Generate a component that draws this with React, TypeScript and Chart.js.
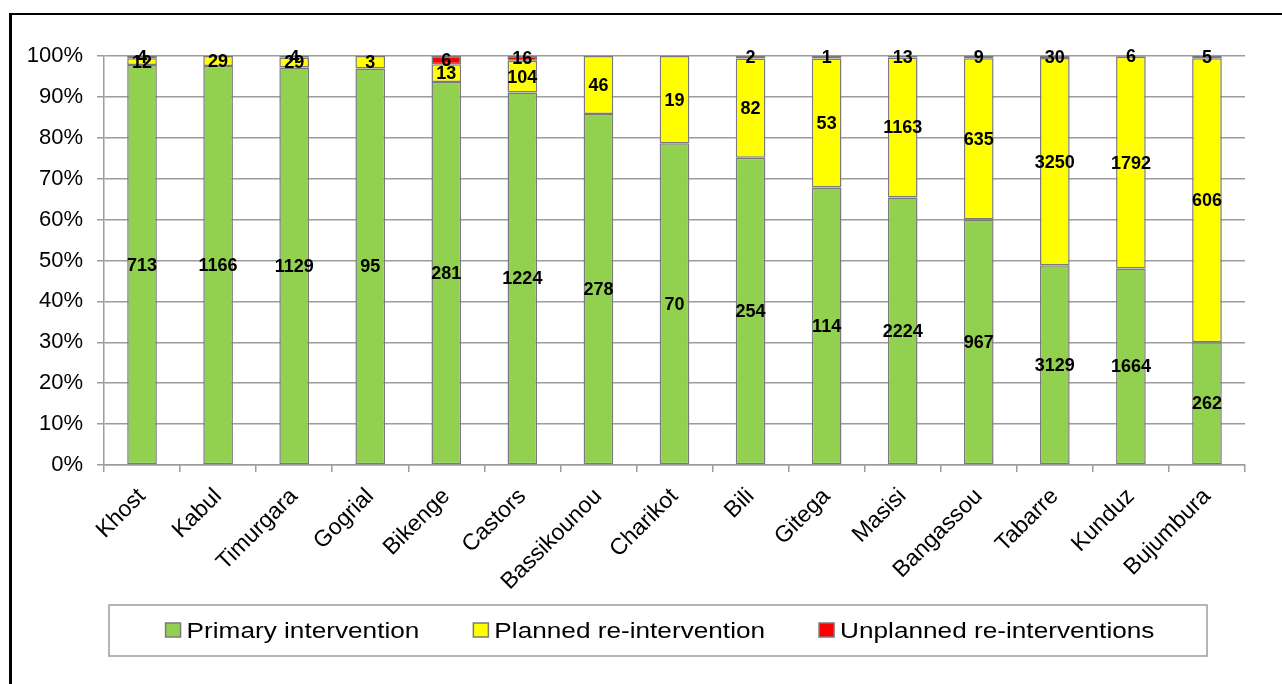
import React, { useEffect, useRef } from 'react';
import { Chart, registerables } from 'chart.js';

Chart.register(...registerables);

// Sites, in display order
const sites = [
  'Khost', 'Kabul', 'Timurgara', 'Gogrial', 'Bikenge', 'Castors', 'Bassikounou',
  'Charikot', 'Bili', 'Gitega', 'Masisi', 'Bangassou', 'Tabarre', 'Kunduz', 'Bujumbura',
];

// Number of interventions per site
const primaryCounts = [713, 1166, 1129, 95, 281, 1224, 278, 70, 254, 114, 2224, 967, 3129, 1664, 262];
const plannedCounts = [12, 29, 29, 3, 13, 104, 46, 19, 82, 53, 1163, 635, 3250, 1792, 606];
const unplannedCounts = [4, 0, 4, 0, 6, 16, 0, 0, 2, 1, 13, 9, 30, 6, 5];

const seriesNames = ['Primary intervention', 'Planned re-intervention', 'Unplanned re-interventions'];
const seriesColors = ['#92D050', '#FFFF00', '#FF0000'];

// Percent axis: 0% .. 100% in steps of 10
const yTickStep = 10;
const yMax = 100;

const FONT = '"Liberation Sans", Arial, Helvetica, sans-serif';
const GRID = '#9c9c9c';
const BAR_EDGE = '#7a7a7a';

const totals = sites.map((_, i) => primaryCounts[i] + plannedCounts[i] + unplannedCounts[i]);
const toShare = (counts: number[]) => counts.map((c, i) => (c / totals[i]) * 100);

// Count labels centred in each non-empty segment
const countLabels = {
  id: 'countLabels',
  afterDatasetsDraw(chart: any) {
    const { ctx } = chart;
    ctx.save();
    ctx.font = `bold 18px ${FONT}`;
    ctx.fillStyle = '#000';
    ctx.textAlign = 'center';
    ctx.textBaseline = 'middle';
    chart.data.datasets.forEach((ds: any, di: number) => {
      const meta = chart.getDatasetMeta(di);
      meta.data.forEach((bar: any, i: number) => {
        const n = ds.counts[i];
        if (!n) return;
        const { x, y, base } = bar.getProps(['x', 'y', 'base'], true);
        ctx.fillText(String(n), x, (y + base) / 2 + 1);
      });
    });
    ctx.restore();
  },
};

// Framed legend row under the axis labels
const framedLegend = {
  id: 'framedLegend',
  afterDraw(chart: any) {
    const { ctx, chartArea } = chart;
    const left = chartArea.left + 5;
    const right = chartArea.right - 38;
    const top = chartArea.bottom + 140;
    const h = 51;
    ctx.save();
    ctx.strokeStyle = GRID;
    ctx.lineWidth = 1.5;
    ctx.strokeRect(left, top, right - left, h);

    ctx.font = `22px ${FONT}`;
    const sx = 1.19;
    const box = 15;
    const gapText = 6;
    const gapItems = 54;
    const items = chart.data.datasets.map((ds: any) => ({
      label: ds.label,
      color: ds.backgroundColor,
      w: ctx.measureText(ds.label).width * sx,
    }));
    const total = items.reduce((s: number, it: any) => s + box + gapText + it.w, 0) + gapItems * (items.length - 1);
    let x = (left + right) / 2 - total / 2 + 2;
    const cy = top + h / 2;
    items.forEach((it: any) => {
      ctx.fillStyle = it.color;
      ctx.fillRect(x, cy - box / 2, box, box - 1);
      ctx.strokeStyle = BAR_EDGE;
      ctx.lineWidth = 1.5;
      ctx.strokeRect(x, cy - box / 2, box, box - 1);
      x += box + gapText;
      ctx.save();
      ctx.translate(x, cy + 7.5);
      ctx.scale(sx, 1.03);
      ctx.fillStyle = '#000';
      ctx.textBaseline = 'alphabetic';
      ctx.textAlign = 'left';
      ctx.fillText(it.label, 0, 0);
      ctx.restore();
      x += it.w + gapItems;
    });
    ctx.restore();
  },
};

export default function App() {
  const canvasRef = useRef<HTMLCanvasElement | null>(null);

  useEffect(() => {
    const canvas = canvasRef.current;
    if (!canvas) return;
    const countSets = [primaryCounts, plannedCounts, unplannedCounts];
    const chart = new Chart(canvas, {
      type: 'bar',
      data: {
        labels: sites,
        datasets: countSets.map((counts, k) => ({
          label: seriesNames[k],
          data: toShare(counts),
          counts,
          backgroundColor: seriesColors[k],
          borderColor: BAR_EDGE,
          borderWidth: 1.5,
          borderSkipped: false,
          barPercentage: 0.39,
          categoryPercentage: 1,
        })) as any,
      },
      options: {
        responsive: false,
        animation: false,
        devicePixelRatio: 1,
        layout: { padding: { top: 56, left: 0, right: 37, bottom: 79 } },
        plugins: {
          legend: { display: false },
          tooltip: { enabled: false },
        },
        scales: {
          x: {
            stacked: true,
            grid: {
              display: true,
              drawOnChartArea: false,
              drawTicks: true,
              tickLength: 7,
              color: GRID,
              lineWidth: 1.5,
              offset: true,
            },
            border: { display: true, color: GRID, width: 1.5 },
            ticks: {
              autoSkip: false,
              minRotation: 45,
              maxRotation: 45,
              padding: 11,
              color: '#000',
              font: { family: FONT, size: 23 },
            },
            afterFit: (s: any) => {
              s.height = 140;
            },
          },
          y: {
            stacked: true,
            min: 0,
            max: yMax,
            grid: { color: GRID, lineWidth: 1.5, tickLength: 7, drawTicks: true },
            border: { display: true, color: GRID, width: 1.5 },
            ticks: {
              stepSize: yTickStep,
              padding: 14,
              color: '#000',
              font: { family: FONT, size: 22 },
              callback: (v: any) => `${v}%`,
            },
            afterFit: (s: any) => {
              s.width = 104;
            },
          },
        },
      },
      plugins: [countLabels, framedLegend],
    });
    return () => chart.destroy();
  }, []);

  return (
    <div
      style={{
        position: 'absolute',
        left: 0,
        top: 0,
        width: 1282,
        height: 684,
        overflow: 'hidden',
        background: '#fff',
      }}
    >
      <div
        style={{
          position: 'absolute',
          left: 9,
          top: 13,
          width: 1273,
          height: 671,
          boxSizing: 'border-box',
          borderLeft: '3px solid #000',
          borderTop: '2px solid #000',
        }}
      />
      <canvas ref={canvasRef} width={1282} height={684} style={{ position: 'absolute', left: 0, top: 0 }} />
    </div>
  );
}
